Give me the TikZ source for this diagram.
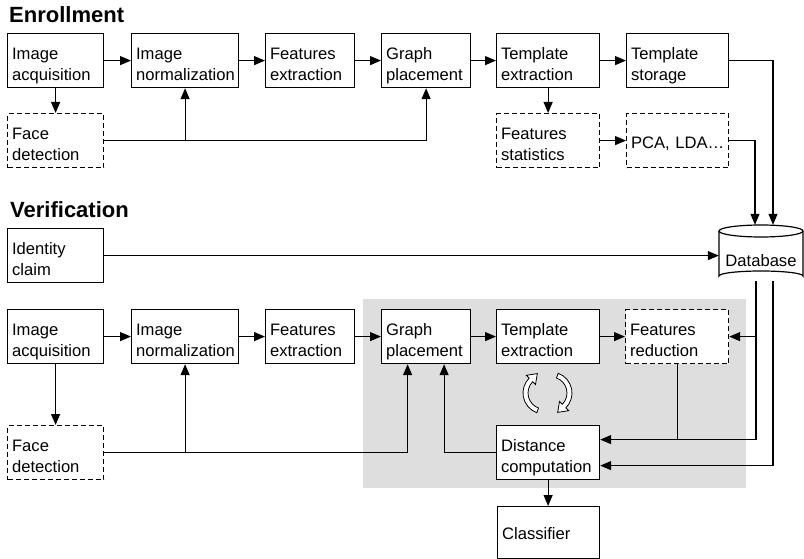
\documentclass[tikz,border=0pt]{standalone}
\usepackage{fontspec}
\setmainfont{Liberation Sans}
\usetikzlibrary{arrows.meta,calc}

\definecolor{panel}{HTML}{DEDEDE}
\newcommand\boxfont{\fontsize{16.6pt}{21pt}\selectfont}
\newcommand\headfont{\fontsize{22pt}{26pt}\selectfont\bfseries}

\tikzset{
  blk/.style={draw, fill=white, line width=1.2pt, inner xsep=4.5pt, inner ysep=0pt,
    anchor=north west, align=left, font=\boxfont, text height=26pt, text depth=28pt},
  dashblk/.style={blk, dash pattern=on 5pt off 3pt},
  oneline/.style={text height=35pt, text depth=19pt},
  link/.style={line width=1.2pt, -{Triangle[length=11pt,width=9pt]}},
  wire/.style={line width=1.2pt},
  title/.style={anchor=base west, inner sep=0pt, font=\headfont},
  cyc/.style={draw, fill=white, line width=0.8pt, line join=miter},
}

\begin{document}
\begin{tikzpicture}[x=1pt, y=-1pt]
\useasboundingbox (0,0) rectangle (804,559);

% shaded matching stage
\fill[panel] (363,299) rectangle (746,488);

% section headings
\node[title] (hEnr) at (9,23) {Enrollment};
\node[title] (hVer) at (10,218) {Verification};

% ---------- enrollment chain ----------
\node[blk, text width=87pt] (eacq)  at (7,33)   {Image\\acquisition};
\node[blk, text width=98pt] (enorm) at (131,33) {Image\\normalization};
\node[blk, text width=80pt] (efeat) at (265,33) {Features\\extraction};
\node[blk, text width=80pt] (egraph) at (381,33) {Graph\\placement};
\node[blk, text width=94pt] (etmpl) at (496,33) {Template\\extraction};
\node[blk, text width=93pt] (estor) at (626,33) {Template\\storage};
\node[dashblk, text width=87pt] (eface) at (7,113) {Face\\detection};
\node[dashblk, text width=94pt] (estat) at (496,113) {Features\\statistics};
\node[dashblk, oneline, text width=93pt] (epca) at (626,113) {\mbox{PCA, LDA…}};

% ---------- database cylinder ----------
\filldraw[fill=white, line width=1.2pt]
  (719,231) -- (719,276) arc[start angle=180, end angle=360, x radius=42, y radius=5]
  -- (803,231);
\draw[line width=1.2pt] (761,231) ellipse [x radius=42, y radius=6];
\node[inner sep=0pt, minimum width=84pt, text height=41pt, text depth=15pt,
      font=\boxfont] (db) at (761,253) {Database};

% ---------- verification chain ----------
\node[blk, text width=87pt] (ident) at (7,228) {Identity\\claim};
\node[blk, text width=87pt] (vacq)  at (7,309)   {Image\\acquisition};
\node[blk, text width=98pt] (vnorm) at (131,309) {Image\\normalization};
\node[blk, text width=80pt] (vfeat) at (265,309) {Features\\extraction};
\node[blk, text width=80pt] (vgraph) at (381,309) {Graph\\placement};
\node[blk, text width=94pt] (vtmpl) at (496,309) {Template\\extraction};
\node[dashblk, text width=94pt] (vred) at (625,309) {Features\\reduction};
\node[dashblk, text width=87pt] (vface) at (7,425) {Face\\detection};
\node[blk, text width=94pt] (vdist) at (496,425) {Distance\\computation};
\node[blk, text width=93pt, text height=33pt, text depth=19pt] (cls) at (497,506) {Classifier};

% ---------- enrollment connectors ----------
\draw[link] (eacq.east) -- (enorm.west);
\draw[link] (enorm.east) -- (efeat.west);
\draw[link] (efeat.east) -- (egraph.west);
\draw[link] (egraph.east) -- (etmpl.west);
\draw[link] (etmpl.east) -- (estor.west);
\draw[link] (eacq.south) -- (eface.north);
\draw[link] (eface.east) -| (egraph.south);
\draw[link] (enorm.south |- eface.east) -- (enorm.south);
\draw[link] (etmpl.south) -- (estat.north);
\draw[link] (estat.east) -- (epca.west);
\draw[link] (estor.east) -| ([xshift=12pt]db.north);
\draw[link] (epca.east) -| ([xshift=-6pt]db.north);

% ---------- verification connectors ----------
\draw[link] (ident.east) -- (ident.east -| db.west);
\draw[link] (vacq.east) -- (vnorm.west);
\draw[link] (vnorm.east) -- (vfeat.west);
\draw[link] (vfeat.east) -- (vgraph.west);
\draw[link] (vgraph.east) -- (vtmpl.west);
\draw[link] (vtmpl.east) -- (vred.west);
\draw[link] (vacq.south) -- (vface.north);
\draw[link] (vface.east) -| ([xshift=-18.5pt]vgraph.south);
\draw[link] (vnorm.south |- vface.east) -- (vnorm.south);
\draw[link] (vdist.west) -| ([xshift=18pt]vgraph.south);

\coordinate (dIn1) at ([yshift=13pt]vdist.east);
\coordinate (dIn2) at ([yshift=-13pt]vdist.east);
\draw[link] ([xshift=-5pt]db.south) |- (dIn1);
\draw[link] ([xshift=-5pt]db.south |- vred.east) -- (vred.east);
\draw[wire] (vred.south) -- (vred.south |- dIn1);
\draw[link] ([xshift=12pt]db.south) |- (dIn2);
\draw[link] (vdist.south) -- (vdist.south |- cls.north);

% ---------- iteration symbol ----------
\begin{scope}[shift={(544,393)}, yscale=-1]
  \draw[cyc] (250:21) arc[start angle=250, end angle=135, radius=21]
    -- (135:25) -- (-6.7,19.4) -- (135:12) -- (135:16)
    arc[start angle=135, end angle=250, radius=16] -- cycle;
\end{scope}
\begin{scope}[shift={(551,393)}, yscale=-1, rotate=180]
  \draw[cyc] (250:21) arc[start angle=250, end angle=135, radius=21]
    -- (135:25) -- (-6.7,19.4) -- (135:12) -- (135:16)
    arc[start angle=135, end angle=250, radius=16] -- cycle;
\end{scope}
\end{tikzpicture}
\end{document}
